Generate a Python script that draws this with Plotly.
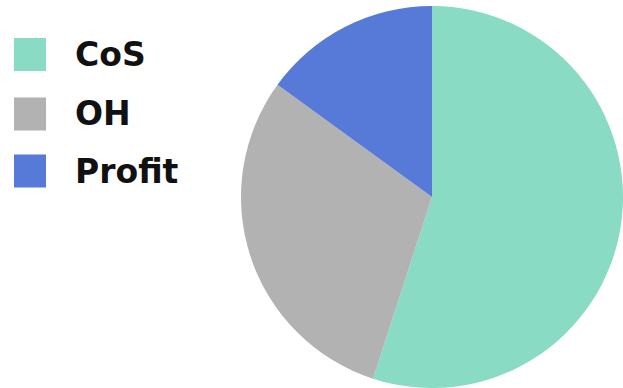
import plotly.graph_objects as go

labels = ["CoS", "OH", "Profit"]
values = [55, 30, 15]
colors = ["#8adbc3", "#b2b2b2", "#577ad8"]

W, H = 623, 388
TOP = 6
PH = H - TOP  # plot area height

def py(ypx):
    return (H - ypx) / PH

fig = go.Figure()
fig.add_trace(go.Pie(
    labels=labels, values=values, sort=False, direction="clockwise", rotation=0,
    marker=dict(colors=colors, line=dict(width=0)),
    textinfo="none", hoverinfo="label+percent", showlegend=False,
    domain=dict(x=[(W - PH) / W, 1], y=[0, 1]),
))

shapes = []
annotations = []
row_centers = [54.5, 114, 171]
for lab, col, cy in zip(labels, colors, row_centers):
    shapes.append(dict(type="rect", xref="paper", yref="paper",
                       x0=14 / W, x1=46 / W, y0=py(cy + 16.5), y1=py(cy - 16.5),
                       fillcolor=col, line=dict(width=0)))
    annotations.append(dict(text="<b>" + lab + "</b>", xref="paper", yref="paper",
                            x=73 / W, y=py(cy), xanchor="left", yanchor="middle",
                            showarrow=False,
                            font=dict(family="DejaVu Sans", size=33, color="#111111")))

fig.update_layout(width=W, height=H, margin=dict(l=0, r=0, t=TOP, b=0),
                  paper_bgcolor="white", plot_bgcolor="white",
                  shapes=shapes, annotations=annotations)
fig.write_html("out.html")
